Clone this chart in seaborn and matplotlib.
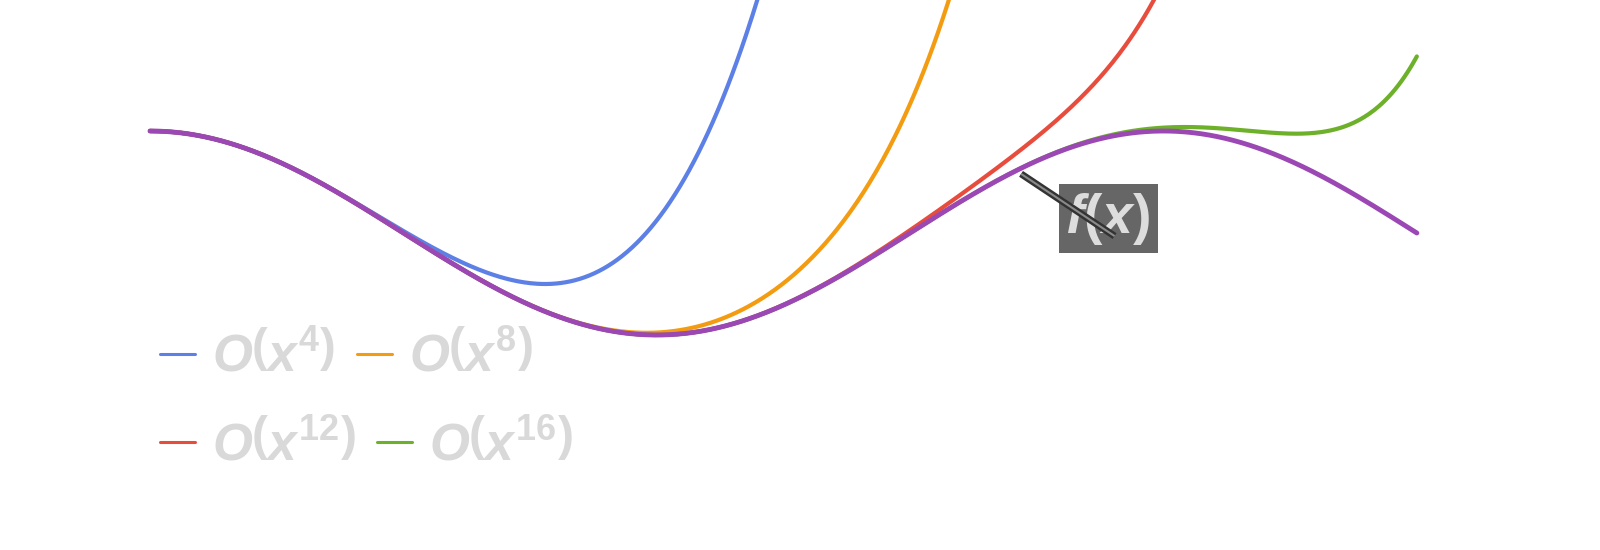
import numpy as np
import seaborn as sns
import matplotlib.pyplot as plt

# Taylor polynomials of cos(x) on [0, 5*pi/2]
orders = [4, 8, 12, 16]
labels = [r"$O\left(x^{4}\right)$", r"$O\left(x^{8}\right)$",
          r"$O\left(x^{12}\right)$", r"$O\left(x^{16}\right)$"]
colors = ["#5D80E6", "#F39C12", "#E74C3C", "#6DB02A"]
f_color = "#9B48B5"
x_max = 2.5 * np.pi
callout_text = r"$f(x)$"
callout_xy = (5.94, 0.14)
leader_x = [5.40, 5.98]
leader_y = [0.58, -0.03]


def taylor_cos(x, order):
    out = np.zeros_like(x)
    for k in range(order // 2 + 1):
        out += (-1) ** k * x ** (2 * k) / np.prod(np.arange(1, 2 * k + 1), dtype=float)
    return out


sns.set_theme(style="white")
plt.rcParams["font.family"] = ["Liberation Sans", "DejaVu Sans"]
plt.rcParams["mathtext.fontset"] = "custom"
plt.rcParams["mathtext.it"] = "Liberation Sans:italic:bold"
plt.rcParams["mathtext.rm"] = "Liberation Sans:bold"
plt.rcParams["mathtext.bf"] = "Liberation Sans:bold"

x = np.linspace(0, x_max, 800)

fig = plt.figure(figsize=(16, 5.5), dpi=100)
ax = fig.add_axes([0, 0, 1, 1])

handles = []
for order, lab, col in zip(orders, labels, colors):
    sns.lineplot(x=x, y=taylor_cos(x, order), ax=ax, color=col, lw=3.0,
                 label=lab, legend=False)
    handles.append(ax.lines[-1])
sns.lineplot(x=x, y=np.cos(x), ax=ax, color=f_color, lw=3.5, legend=False)

ax.set_xlim(-150 / 161.3, 1450 / 161.3)
ax.set_ylim(-317 / 102.0, 233 / 102.0)
ax.axis("off")

# callout with leader line
ax.text(callout_xy[0], callout_xy[1], callout_text, fontsize=40, color="#DDDDDD",
        ha="center", va="center", zorder=5,
        bbox=dict(boxstyle="square,pad=0.12", fc="#666666", ec="none"))
ax.plot(leader_x, leader_y, color="#333333", lw=5, solid_capstyle="butt", zorder=6)
ax.plot(leader_x, leader_y, color="#8a8a8a", lw=1.5, solid_capstyle="butt", zorder=6)

leg_kw = dict(ncol=2, frameon=False, fontsize=37, labelcolor="#D9D9D9",
              handlelength=0.68, handletextpad=0.33, columnspacing=0.42,
              borderpad=0, borderaxespad=0, loc="center left")
leg1 = ax.legend(handles[:2], labels[:2], bbox_to_anchor=(0.1, 0.35), **leg_kw)
ax.add_artist(leg1)
leg2 = ax.legend(handles[2:], labels[2:], bbox_to_anchor=(0.1, 0.188), **leg_kw)
for leg in (leg1, leg2):
    for ln in leg.get_lines():
        ln.set_linewidth(2.2)

fig.savefig("out.png", dpi=100)
